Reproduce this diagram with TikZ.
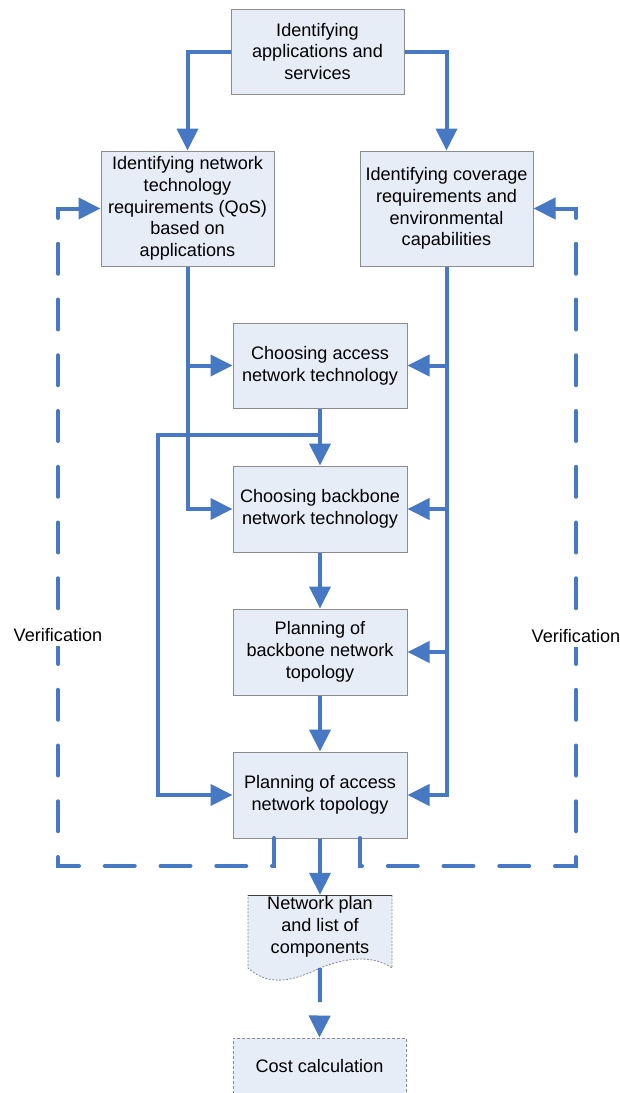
\documentclass[tikz,border=0pt]{standalone}
\usepackage{fontspec}
\setmainfont{Liberation Sans}
\usetikzlibrary{arrows.meta}
\definecolor{lineblue}{RGB}{70,120,195}
\definecolor{boxfill}{RGB}{231,237,247}
\definecolor{boxborder}{RGB}{140,140,140}
\definecolor{darkborder}{RGB}{60,60,60}
\begin{document}
\begin{tikzpicture}[x=1pt,y=-1pt,
  txt/.style={font=\fontsize{18.1}{21.7}\selectfont, align=center, inner sep=0pt},
  box/.style={txt, draw=boxborder, line width=1pt, fill=boxfill, minimum width=173pt},
  flow/.style={draw=lineblue, line width=4pt, -{Triangle[length=22pt,width=21pt]}},
  verif/.style={flow, line cap=round, dash pattern=on 30pt off 25.75pt},
  labelbox/.style={txt, fill=white, inner xsep=0pt, inner ysep=4pt}]
\useasboundingbox (0,0) rectangle (619,1093);

% boxes
\node[box, minimum height=85pt] (A) at (317.5,51.5) {Identifying\\applications and\\services};
\node[box, minimum height=115pt] (B) at (187.5,208.5) {Identifying network\\technology\\requirements (QoS)\\based on\\applications};
\node[box, minimum height=115pt] (C) at (446.5,208.5) {Identifying coverage\\requirements and\\environmental\\capabilities};
\node[box, minimum width=174pt, minimum height=85pt] (D) at (320,365.5) {Choosing access\\network technology};
\node[box, minimum width=174pt, minimum height=86pt] (E) at (320,509) {Choosing backbone\\network technology};
\node[box, minimum width=174pt, minimum height=86pt] (F) at (320,652) {Planning of\\backbone network\\topology};
\node[box, minimum width=174pt, minimum height=86pt] (G) at (320,795) {Planning of access\\network topology};

% document shape
\node[inner sep=0pt, minimum width=144pt, minimum height=73pt] (doc) at (320,931.5) {};
\fill[boxfill] (248,895) -- (392,895) -- (392,968) .. controls (375,956) and (350,956) .. (320,968) .. controls (295,980) and (270,988) .. (248,968) -- cycle;
\draw[boxborder, line width=0.8pt, dash pattern=on 2pt off 1.5pt] (392,895) -- (392,968) .. controls (375,956) and (350,956) .. (320,968) .. controls (295,980) and (270,988) .. (248,968) -- (248,895);
\draw[darkborder, line width=1pt] (248,895) -- (392,895);
\node[txt] (doctext) at (320,927) {Network plan\\and list of\\components};

\node[box, draw=boxborder, dash pattern=on 3pt off 2pt, minimum height=56pt] (cost) at (319.5,1066) {Cost calculation};

% connectors
\draw[flow] (A.west) -| (B.north);
\draw[flow] (A.east) -| (C.north);

\draw[flow] (B.south) |- (E.west);
\draw[flow] (B.south |- D.west) -- (D.west);

\draw[flow] (C.south) |- (G.east);
\draw[flow] (C.south |- D.east) -- (D.east);
\draw[flow] (C.south |- E.east) -- (E.east);
\draw[flow] (C.south |- F.east) -- (F.east);

\draw[flow] (D.south) -- (E.north);
\coordinate (j1) at (320,435);
\coordinate (j2) at (158,435);
\draw[flow] (j1) -- (j2) |- (G.west);

\draw[flow] (E.south) -- (F.north);
\draw[flow] (F.south) -- (G.north);
\draw[flow] (G.south) -- (doc.north);
\draw[flow, dash pattern=on 34pt off 14pt] (doc.south) -- (cost.north);

% verification loops
\coordinate (vl) at (274,838);
\coordinate (vlc) at (58,866);
\coordinate (vr) at (360,838);
\coordinate (vrc) at (576,866);
\draw[verif] (vl) |- (vlc) |- (B.west);
\draw[verif] (vr) |- (vrc) |- (C.east);

\node[labelbox] (vlabl) at (58,635) {Verification};
\node[labelbox] (vlabr) at (576,636) {Verification};
\end{tikzpicture}
\end{document}
